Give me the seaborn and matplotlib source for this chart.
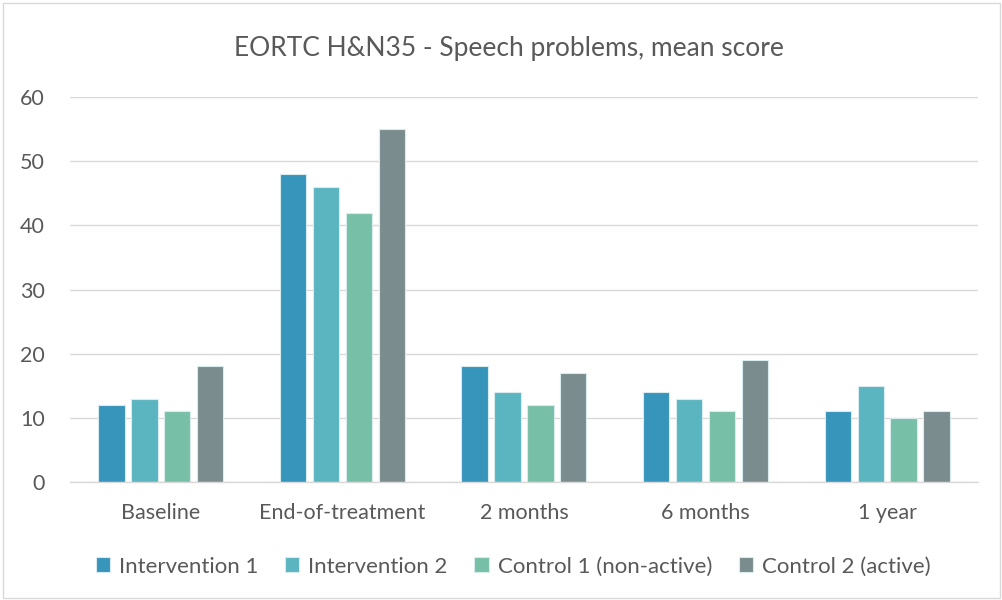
import pandas as pd
import numpy as np
import matplotlib.pyplot as plt
import seaborn as sns
from matplotlib.patches import Rectangle

# data
timepoints = ['Baseline', 'End-of-treatment', '2 months', '6 months', '1 year']
groups = ['Intervention 1', 'Intervention 2', 'Control 1 (non-active)', 'Control 2 (active)']
intervention_1 = [12, 48, 18, 14, 11]
intervention_2 = [13, 46, 14, 13, 15]
control_1 = [11, 42, 12, 11, 10]
control_2 = [18, 55, 17, 19, 11]
colors = ['#3794BB', '#5BB5C1', '#78BFA8', '#7A8C8E']

rows = []
for g, vals in zip(groups, [intervention_1, intervention_2, control_1, control_2]):
    for t, v in zip(timepoints, vals):
        rows.append({'Timepoint': t, 'Group': g, 'Score': v})
df = pd.DataFrame(rows)

sns.set_style('white')
plt.rcParams['font.family'] = ['Lato', 'DejaVu Sans']
text_color = '#595959'

fig = plt.figure(figsize=(10.03, 6), dpi=100)
ax = fig.add_axes([0.0698, 0.1967, 0.9052, 0.6416])

sns.barplot(data=df, x='Timepoint', y='Score', hue='Group', order=timepoints,
            hue_order=groups, palette=colors, saturation=1, width=0.725, gap=0.2,
            edgecolor='#d8ecf0', linewidth=0.8, ax=ax)

ax.set_ylim(0, 60)
ax.set_yticks(range(0, 61, 10))
ax.yaxis.grid(True, color='#d9d9d9', linewidth=1)
ax.set_axisbelow(True)
for s in ['top', 'right', 'left']:
    ax.spines[s].set_visible(False)
ax.spines['bottom'].set_color('#d9d9d9')
ax.spines['bottom'].set_linewidth(1)
ax.set_xlabel('')
ax.set_ylabel('')
ax.tick_params(axis='both', length=0, labelsize=15.5, labelcolor=text_color)
ax.tick_params(axis='x', pad=15)
ax.tick_params(axis='y', pad=18)

fig.suptitle('EORTC H&N35 - Speech problems, mean score', x=0.507, y=0.94,
             fontsize=19, color=text_color)

leg = ax.legend(loc='center', bbox_to_anchor=(0.488, -0.22), ncol=4, frameon=False,
                fontsize=16, handlelength=0.65, handleheight=0.65, handletextpad=0.4,
                columnspacing=1.2)
for t in leg.get_texts():
    t.set_color(text_color)

fig.patches.append(Rectangle((0.003, 0.003), 0.994, 0.992, transform=fig.transFigure,
                             fill=False, edgecolor='#d9d9d9', linewidth=1))

plt.savefig('out.png', dpi=100)
